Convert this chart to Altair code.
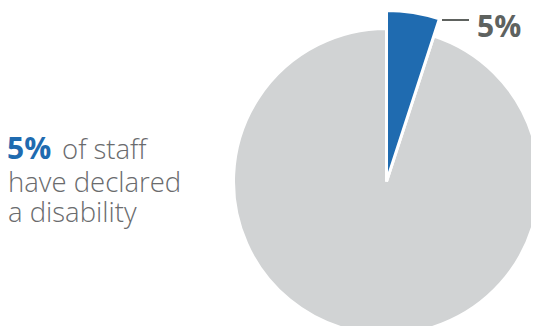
import altair as alt
import pandas as pd

categories = ["Declared a disability", "Not declared"]
values = [5, 95]
order = [0, 1]
colors = ["#1F6BB0", "#D1D3D4"]
label_text = ["5%"]

df = pd.DataFrame({"category": categories, "value": values, "order": order})
total = sum(values)

CX, CY = 378.5, 173.5

base = alt.Chart(df).transform_stack(
    stack="value", groupby=[], as_=["t0", "t1"], sort=[alt.SortField("order", "ascending")]
)

def slice_layer(cat, radius):
    return base.transform_filter(alt.datum.category == cat).mark_arc(
        stroke="white", strokeWidth=3, outerRadius=radius
    ).encode(
        theta=alt.Theta("t0:Q", scale=alt.Scale(domain=[0, total])),
        theta2="t1:Q",
        color=alt.Color("category:N", scale=alt.Scale(domain=categories, range=colors), legend=None),
        x=alt.value(CX),
        y=alt.value(CY),
    )

pie_grey = slice_layer(categories[1], 153)
pie_blue = slice_layer(categories[0], 171)

lbl_df = pd.DataFrame({"t": label_text})
rule = alt.Chart(lbl_df).mark_rule(color="#5E625F", strokeWidth=2).encode(
    x=alt.value(434), x2=alt.value(461), y=alt.value(12)
)
lbl = alt.Chart(lbl_df).mark_text(
    font="Open Sans", fontSize=30, fontWeight="bold", color="#5E625F", align="left", baseline="alphabetic"
).encode(text="t:N", x=alt.value(469), y=alt.value(29))

left_bold = alt.Chart(lbl_df).mark_text(
    font="Open Sans", fontSize=30, fontWeight="bold", color="#1F6BB0", align="left", baseline="alphabetic"
).encode(text="t:N", x=alt.value(-1), y=alt.value(151))

lines = pd.DataFrame({"t": ["of staff", "have declared", "a disability"], "x": [54, 0, 0], "y": [151, 184, 214]})
left_text = alt.Chart(lines).mark_text(
    font="Open Sans", fontSize=27.5, fontWeight=300, color="#6A6B6D", align="left", baseline="alphabetic"
).encode(text="t:N", x=alt.X("x:Q", scale=None), y=alt.Y("y:Q", scale=None))

chart = alt.layer(pie_grey, pie_blue, rule, lbl, left_bold, left_text).properties(
    width=523, height=318, padding=0, autosize="none"
).configure_view(stroke=None)

chart.save("out.html", embed_options={"renderer": "svg", "actions": False})
